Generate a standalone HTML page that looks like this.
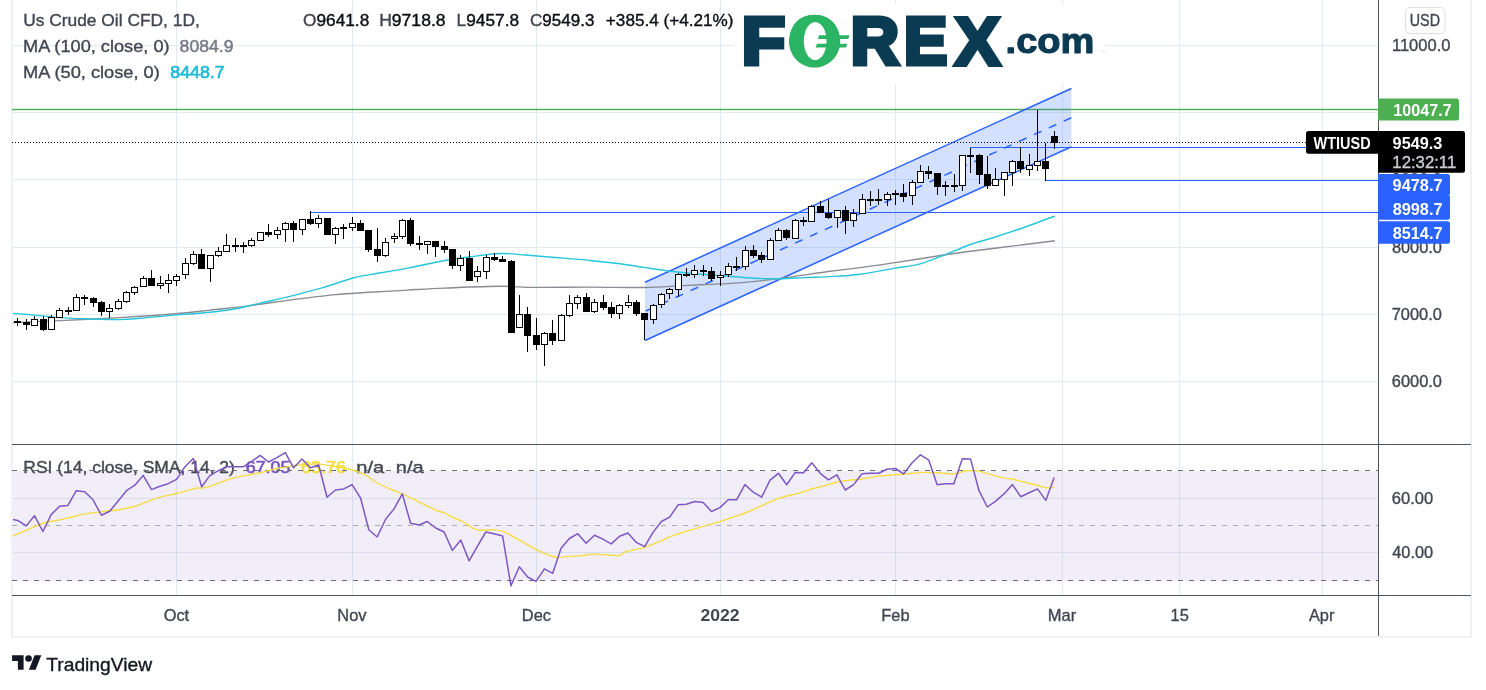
<!DOCTYPE html>
<html lang="en"><head><meta charset="utf-8"><title>Us Crude Oil CFD chart</title>
<style>html,body{margin:0;padding:0;background:#fff;width:1486px;height:690px;overflow:hidden}</style></head>
<body>
<svg width="1486" height="690" viewBox="0 0 1486 690" style="display:block;position:absolute;left:0;top:0" font-family="'Liberation Sans', sans-serif">
<rect width="1486" height="690" fill="#fff"/>
<g fill="#eff1f6" shape-rendering="crispEdges"><rect x="11" y="0" width="2" height="638"/><rect x="1470" y="0" width="2" height="638"/><rect x="11" y="636" width="1461" height="2"/></g>
<rect x="13" y="470.5" width="1365" height="110.0" fill="#f2eef9" shape-rendering="crispEdges"/>
<g fill="#e1ecf2" shape-rendering="crispEdges">
<rect x="176" y="0" width="1" height="595"/>
<rect x="352" y="0" width="1" height="595"/>
<rect x="536" y="0" width="1" height="595"/>
<rect x="720" y="0" width="1" height="595"/>
<rect x="895" y="0" width="1" height="595"/>
<rect x="1062" y="0" width="1" height="595"/>
<rect x="1179" y="0" width="1" height="595"/>
<rect x="1322" y="0" width="1" height="595"/>
<rect x="13" y="45" width="1365" height="1"/>
<rect x="13" y="112" width="1365" height="1"/>
<rect x="13" y="179" width="1365" height="1"/>
<rect x="13" y="247" width="1365" height="1"/>
<rect x="13" y="314" width="1365" height="1"/>
<rect x="13" y="381" width="1365" height="1"/>
</g>
<g fill="#d9dcea" shape-rendering="crispEdges">
<rect x="13" y="498" width="1365" height="1"/>
<rect x="13" y="552" width="1365" height="1"/>
<rect x="176" y="471" width="1" height="109"/>
<rect x="352" y="471" width="1" height="109"/>
<rect x="536" y="471" width="1" height="109"/>
<rect x="720" y="471" width="1" height="109"/>
<rect x="895" y="471" width="1" height="109"/>
<rect x="1062" y="471" width="1" height="109"/>
<rect x="1179" y="471" width="1" height="109"/>
<rect x="1322" y="471" width="1" height="109"/>
</g>
<defs><clipPath id="cp"><rect x="13" y="0" width="1365" height="444"/></clipPath><clipPath id="cr"><rect x="13" y="445" width="1365" height="150"/></clipPath></defs>
<rect x="12" y="108.8" width="1366" height="1.4" fill="#4caf50"/>
<g clip-path="url(#cp)">
<polygon points="645.0,282.2 1071.4,88.5 1071.4,146.8 645.0,340.5" fill="#2962ff" fill-opacity="0.2"/>
<g stroke="#2962ff" stroke-width="1.5" fill="none">
<line x1="645.0" y1="282.2" x2="1071.4" y2="88.5"/>
<line x1="645.0" y1="340.5" x2="1071.4" y2="146.8"/>
<line x1="645.0" y1="311.34999999999997" x2="1071.4" y2="117.65" stroke-dasharray="8.2 8.2" stroke-dashoffset="-0.8"/>
</g>
<g fill="#2962ff" shape-rendering="crispEdges">
<rect x="310" y="211.6" width="1068" height="1.4"/>
<rect x="970" y="146.8" width="408" height="1.4"/>
<rect x="1045" y="179.6" width="333" height="1.4"/>
</g>
<path d="M12.5 322.6C20.4 322.3 42.1 321.4 60.0 320.6C77.9 319.8 100.8 318.7 120.0 317.6C139.2 316.5 160.0 315.1 175.0 313.8C190.0 312.6 197.4 311.5 210.0 310.1C222.6 308.7 236.5 307.4 250.3 305.6C264.1 303.9 278.7 301.4 292.9 299.6C307.1 297.8 322.5 295.8 335.4 294.6C348.2 293.4 358.0 293.1 370.0 292.3C382.0 291.6 395.0 290.8 407.5 290.1C420.0 289.4 429.7 288.7 445.1 288.1C460.6 287.5 485.2 286.4 500.2 286.3C515.2 286.2 520.2 287.3 535.2 287.4C550.2 287.5 571.9 287.1 590.3 287.1C608.6 287.1 629.9 287.8 645.3 287.5C660.7 287.2 670.4 286.2 682.9 285.6C695.4 285.0 710.5 284.4 720.4 283.9C730.2 283.4 732.1 283.5 742.0 282.6C751.9 281.7 765.3 280.3 780.0 278.4C794.7 276.5 816.7 273.1 830.1 271.3C843.5 269.5 849.4 269.1 860.2 267.6C871.1 266.2 881.0 264.7 895.2 262.6C909.4 260.5 932.8 256.7 945.3 254.8C957.8 252.9 957.8 252.9 970.3 251.3C982.8 249.7 1006.3 246.8 1020.4 245.1C1034.5 243.3 1049.2 241.5 1054.9 240.8" fill="none" stroke="#8a8c94" stroke-width="1.4" stroke-linejoin="round"/>
<path d="M12.5 313.3C16.2 313.6 27.1 314.4 35.0 315.1C42.9 315.8 51.7 317.0 60.0 317.6C68.3 318.2 75.0 318.5 85.0 318.8C95.0 319.1 110.8 319.7 120.0 319.6C129.2 319.5 130.8 319.1 140.0 318.3C149.2 317.6 163.3 316.1 175.0 315.1C186.7 314.1 199.9 313.4 210.0 312.3C220.1 311.2 226.9 310.3 235.3 308.8C243.7 307.3 250.7 305.3 260.3 303.1C269.9 300.9 282.5 298.2 292.9 295.6C303.3 293.0 312.9 290.5 322.9 287.6C332.9 284.7 345.0 280.2 352.9 278.0C360.8 275.8 360.9 276.2 370.0 274.6C379.1 273.0 395.0 270.5 407.5 268.1C420.0 265.8 434.7 262.4 445.1 260.5C455.5 258.6 460.9 258.0 470.1 256.8C479.3 255.6 491.0 253.8 500.2 253.5C509.4 253.2 516.0 254.3 525.2 255.0C534.4 255.7 544.4 256.6 555.2 257.5C566.1 258.4 579.4 259.4 590.3 260.5C601.1 261.6 611.1 262.6 620.3 263.8C629.5 265.0 636.9 266.4 645.3 267.6C653.6 268.9 662.0 270.3 670.4 271.3C678.8 272.3 687.1 273.1 695.4 273.8C703.7 274.5 712.6 275.0 720.4 275.6C728.2 276.2 736.2 276.9 742.0 277.3C747.8 277.8 748.7 278.1 755.0 278.3C761.3 278.6 771.6 278.9 780.0 278.8C788.4 278.7 796.8 278.0 805.1 277.6C813.5 277.2 820.9 277.2 830.1 276.6C839.3 276.1 849.4 275.7 860.2 274.3C871.1 272.9 885.2 269.9 895.2 268.1C905.2 266.4 911.9 266.1 920.2 263.8C928.6 261.6 936.9 257.8 945.3 254.6C953.6 251.4 962.0 247.4 970.3 244.5C978.6 241.6 986.1 239.9 995.3 237.0C1004.5 234.1 1015.5 230.5 1025.4 227.0C1035.3 223.5 1050.0 217.8 1054.9 216.0" fill="none" stroke="#26c6da" stroke-width="1.4" stroke-linejoin="round"/>
<g shape-rendering="crispEdges">
<rect x="17" y="318" width="1" height="8" fill="#000"/>
<rect x="14" y="321" width="7" height="2" fill="#000"/>
<rect x="26" y="319" width="1" height="11" fill="#000"/>
<rect x="23" y="322" width="7" height="3" fill="#000"/>
<rect x="34" y="316" width="1" height="10" fill="#000"/>
<rect x="31.5" y="319.5" width="6" height="6" fill="#fff" stroke="#000" stroke-width="1"/>
<rect x="43" y="316" width="1" height="15" fill="#000"/>
<rect x="40" y="319" width="7" height="11" fill="#000"/>
<rect x="51" y="315" width="1" height="15" fill="#000"/>
<rect x="48.5" y="317.5" width="6" height="12" fill="#fff" stroke="#000" stroke-width="1"/>
<rect x="59" y="308" width="1" height="10" fill="#000"/>
<rect x="56.5" y="310.5" width="6" height="7" fill="#fff" stroke="#000" stroke-width="1"/>
<rect x="68" y="307" width="1" height="8" fill="#000"/>
<rect x="65" y="310" width="7" height="2" fill="#000"/>
<rect x="76" y="294" width="1" height="17" fill="#000"/>
<rect x="73.5" y="297.5" width="6" height="13" fill="#fff" stroke="#000" stroke-width="1"/>
<rect x="84" y="295" width="1" height="10" fill="#000"/>
<rect x="81" y="297" width="7" height="2" fill="#000"/>
<rect x="93" y="297" width="1" height="10" fill="#000"/>
<rect x="90" y="298" width="7" height="5" fill="#000"/>
<rect x="101" y="301" width="1" height="15" fill="#000"/>
<rect x="98" y="302" width="7" height="10" fill="#000"/>
<rect x="109" y="304" width="1" height="14" fill="#000"/>
<rect x="106.5" y="308.5" width="6" height="3" fill="#fff" stroke="#000" stroke-width="1"/>
<rect x="118" y="299" width="1" height="11" fill="#000"/>
<rect x="115.5" y="301.5" width="6" height="7" fill="#fff" stroke="#000" stroke-width="1"/>
<rect x="126" y="291" width="1" height="12" fill="#000"/>
<rect x="123.5" y="292.5" width="6" height="9" fill="#fff" stroke="#000" stroke-width="1"/>
<rect x="134" y="286" width="1" height="9" fill="#000"/>
<rect x="131.5" y="287.5" width="6" height="5" fill="#fff" stroke="#000" stroke-width="1"/>
<rect x="143" y="276" width="1" height="11" fill="#000"/>
<rect x="140.5" y="278.5" width="6" height="8" fill="#fff" stroke="#000" stroke-width="1"/>
<rect x="151" y="270" width="1" height="16" fill="#000"/>
<rect x="148" y="278" width="7" height="8" fill="#000"/>
<rect x="160" y="276" width="1" height="13" fill="#000"/>
<rect x="157.5" y="283.5" width="6" height="2" fill="#fff" stroke="#000" stroke-width="1"/>
<rect x="168" y="274" width="1" height="19" fill="#000"/>
<rect x="165.5" y="280.5" width="6" height="3" fill="#fff" stroke="#000" stroke-width="1"/>
<rect x="176" y="274" width="1" height="12" fill="#000"/>
<rect x="173.5" y="276.5" width="6" height="4" fill="#fff" stroke="#000" stroke-width="1"/>
<rect x="185" y="258" width="1" height="21" fill="#000"/>
<rect x="182.5" y="263.5" width="6" height="11" fill="#fff" stroke="#000" stroke-width="1"/>
<rect x="193" y="251" width="1" height="14" fill="#000"/>
<rect x="190.5" y="254.5" width="6" height="9" fill="#fff" stroke="#000" stroke-width="1"/>
<rect x="201" y="249" width="1" height="20" fill="#000"/>
<rect x="198" y="254" width="7" height="15" fill="#000"/>
<rect x="210" y="255" width="1" height="27" fill="#000"/>
<rect x="207.5" y="255.5" width="6" height="13" fill="#fff" stroke="#000" stroke-width="1"/>
<rect x="218" y="247" width="1" height="10" fill="#000"/>
<rect x="215.5" y="251.5" width="6" height="4" fill="#fff" stroke="#000" stroke-width="1"/>
<rect x="226" y="234" width="1" height="17" fill="#000"/>
<rect x="223.5" y="245.5" width="6" height="6" fill="#fff" stroke="#000" stroke-width="1"/>
<rect x="235" y="238" width="1" height="14" fill="#000"/>
<rect x="232" y="245" width="7" height="2" fill="#000"/>
<rect x="243" y="242" width="1" height="11" fill="#000"/>
<rect x="240" y="245" width="7" height="2" fill="#000"/>
<rect x="251" y="238" width="1" height="9" fill="#000"/>
<rect x="248.5" y="240.5" width="6" height="5" fill="#fff" stroke="#000" stroke-width="1"/>
<rect x="260" y="232" width="1" height="8" fill="#000"/>
<rect x="257.5" y="232.5" width="6" height="8" fill="#fff" stroke="#000" stroke-width="1"/>
<rect x="268" y="224" width="1" height="13" fill="#000"/>
<rect x="265" y="232" width="7" height="3" fill="#000"/>
<rect x="277" y="227" width="1" height="12" fill="#000"/>
<rect x="274.5" y="230.5" width="6" height="4" fill="#fff" stroke="#000" stroke-width="1"/>
<rect x="285" y="222" width="1" height="20" fill="#000"/>
<rect x="282.5" y="223.5" width="6" height="6" fill="#fff" stroke="#000" stroke-width="1"/>
<rect x="293" y="221" width="1" height="21" fill="#000"/>
<rect x="290" y="223" width="7" height="7" fill="#000"/>
<rect x="302" y="219" width="1" height="16" fill="#000"/>
<rect x="299.5" y="219.5" width="6" height="10" fill="#fff" stroke="#000" stroke-width="1"/>
<rect x="310" y="211" width="1" height="14" fill="#000"/>
<rect x="307" y="219" width="7" height="5" fill="#000"/>
<rect x="318" y="215" width="1" height="13" fill="#000"/>
<rect x="315.5" y="218.5" width="6" height="5" fill="#fff" stroke="#000" stroke-width="1"/>
<rect x="327" y="218" width="1" height="17" fill="#000"/>
<rect x="324" y="218" width="7" height="17" fill="#000"/>
<rect x="335" y="227" width="1" height="17" fill="#000"/>
<rect x="332.5" y="228.5" width="6" height="6" fill="#fff" stroke="#000" stroke-width="1"/>
<rect x="343" y="224" width="1" height="15" fill="#000"/>
<rect x="340" y="227" width="7" height="2" fill="#000"/>
<rect x="352" y="217" width="1" height="14" fill="#000"/>
<rect x="349.5" y="223.5" width="6" height="4" fill="#fff" stroke="#000" stroke-width="1"/>
<rect x="360" y="220" width="1" height="11" fill="#000"/>
<rect x="357" y="223" width="7" height="8" fill="#000"/>
<rect x="368" y="230" width="1" height="22" fill="#000"/>
<rect x="365" y="230" width="7" height="20" fill="#000"/>
<rect x="377" y="228" width="1" height="34" fill="#000"/>
<rect x="374" y="249" width="7" height="7" fill="#000"/>
<rect x="385" y="238" width="1" height="19" fill="#000"/>
<rect x="382.5" y="242.5" width="6" height="13" fill="#fff" stroke="#000" stroke-width="1"/>
<rect x="394" y="233" width="1" height="10" fill="#000"/>
<rect x="391.5" y="236.5" width="6" height="2" fill="#fff" stroke="#000" stroke-width="1"/>
<rect x="402" y="219" width="1" height="20" fill="#000"/>
<rect x="399.5" y="220.5" width="6" height="16" fill="#fff" stroke="#000" stroke-width="1"/>
<rect x="410" y="218" width="1" height="28" fill="#000"/>
<rect x="407" y="220" width="7" height="24" fill="#000"/>
<rect x="419" y="236" width="1" height="14" fill="#000"/>
<rect x="416" y="243" width="7" height="2" fill="#000"/>
<rect x="427" y="241" width="1" height="13" fill="#000"/>
<rect x="424.5" y="241.5" width="6" height="3" fill="#fff" stroke="#000" stroke-width="1"/>
<rect x="435" y="241" width="1" height="16" fill="#000"/>
<rect x="432" y="241" width="7" height="6" fill="#000"/>
<rect x="444" y="241" width="1" height="12" fill="#000"/>
<rect x="441" y="246" width="7" height="4" fill="#000"/>
<rect x="452" y="249" width="1" height="20" fill="#000"/>
<rect x="449" y="249" width="7" height="17" fill="#000"/>
<rect x="460" y="255" width="1" height="16" fill="#000"/>
<rect x="457.5" y="258.5" width="6" height="7" fill="#fff" stroke="#000" stroke-width="1"/>
<rect x="469" y="251" width="1" height="30" fill="#000"/>
<rect x="466" y="258" width="7" height="23" fill="#000"/>
<rect x="477" y="266" width="1" height="16" fill="#000"/>
<rect x="474.5" y="271.5" width="6" height="5" fill="#fff" stroke="#000" stroke-width="1"/>
<rect x="486" y="255" width="1" height="24" fill="#000"/>
<rect x="483.5" y="257.5" width="6" height="14" fill="#fff" stroke="#000" stroke-width="1"/>
<rect x="494" y="253" width="1" height="8" fill="#000"/>
<rect x="491" y="257" width="7" height="3" fill="#000"/>
<rect x="502" y="256" width="1" height="6" fill="#000"/>
<rect x="499" y="259" width="7" height="3" fill="#000"/>
<rect x="511" y="260" width="1" height="73" fill="#000"/>
<rect x="508" y="261" width="7" height="72" fill="#000"/>
<rect x="519" y="295" width="1" height="33" fill="#000"/>
<rect x="516.5" y="314.5" width="6" height="13" fill="#fff" stroke="#000" stroke-width="1"/>
<rect x="527" y="307" width="1" height="45" fill="#000"/>
<rect x="524" y="314" width="7" height="22" fill="#000"/>
<rect x="536" y="318" width="1" height="32" fill="#000"/>
<rect x="533" y="335" width="7" height="10" fill="#000"/>
<rect x="544" y="332" width="1" height="34" fill="#000"/>
<rect x="541.5" y="333.5" width="6" height="11" fill="#fff" stroke="#000" stroke-width="1"/>
<rect x="552" y="320" width="1" height="25" fill="#000"/>
<rect x="549" y="333" width="7" height="8" fill="#000"/>
<rect x="561" y="314" width="1" height="27" fill="#000"/>
<rect x="558.5" y="315.5" width="6" height="25" fill="#fff" stroke="#000" stroke-width="1"/>
<rect x="569" y="295" width="1" height="22" fill="#000"/>
<rect x="566.5" y="303.5" width="6" height="12" fill="#fff" stroke="#000" stroke-width="1"/>
<rect x="577" y="295" width="1" height="14" fill="#000"/>
<rect x="574.5" y="297.5" width="6" height="6" fill="#fff" stroke="#000" stroke-width="1"/>
<rect x="586" y="293" width="1" height="19" fill="#000"/>
<rect x="583" y="297" width="7" height="15" fill="#000"/>
<rect x="594" y="299" width="1" height="14" fill="#000"/>
<rect x="591.5" y="302.5" width="6" height="9" fill="#fff" stroke="#000" stroke-width="1"/>
<rect x="603" y="295" width="1" height="15" fill="#000"/>
<rect x="600" y="302" width="7" height="6" fill="#000"/>
<rect x="611" y="302" width="1" height="16" fill="#000"/>
<rect x="608" y="307" width="7" height="7" fill="#000"/>
<rect x="619" y="304" width="1" height="15" fill="#000"/>
<rect x="616.5" y="305.5" width="6" height="8" fill="#fff" stroke="#000" stroke-width="1"/>
<rect x="628" y="295" width="1" height="13" fill="#000"/>
<rect x="625.5" y="302.5" width="6" height="3" fill="#fff" stroke="#000" stroke-width="1"/>
<rect x="636" y="300" width="1" height="16" fill="#000"/>
<rect x="633" y="302" width="7" height="12" fill="#000"/>
<rect x="644" y="313" width="1" height="27" fill="#000"/>
<rect x="641" y="313" width="7" height="7" fill="#000"/>
<rect x="653" y="304" width="1" height="20" fill="#000"/>
<rect x="650.5" y="305.5" width="6" height="14" fill="#fff" stroke="#000" stroke-width="1"/>
<rect x="661" y="293" width="1" height="15" fill="#000"/>
<rect x="658.5" y="294.5" width="6" height="10" fill="#fff" stroke="#000" stroke-width="1"/>
<rect x="669" y="288" width="1" height="11" fill="#000"/>
<rect x="666.5" y="289.5" width="6" height="4" fill="#fff" stroke="#000" stroke-width="1"/>
<rect x="678" y="273" width="1" height="24" fill="#000"/>
<rect x="675.5" y="274.5" width="6" height="15" fill="#fff" stroke="#000" stroke-width="1"/>
<rect x="686" y="268" width="1" height="9" fill="#000"/>
<rect x="683" y="274" width="7" height="2" fill="#000"/>
<rect x="694" y="265" width="1" height="13" fill="#000"/>
<rect x="691.5" y="270.5" width="6" height="4" fill="#fff" stroke="#000" stroke-width="1"/>
<rect x="703" y="265" width="1" height="11" fill="#000"/>
<rect x="700" y="270" width="7" height="2" fill="#000"/>
<rect x="711" y="267" width="1" height="14" fill="#000"/>
<rect x="708" y="271" width="7" height="8" fill="#000"/>
<rect x="720" y="271" width="1" height="15" fill="#000"/>
<rect x="717.5" y="275.5" width="6" height="2" fill="#fff" stroke="#000" stroke-width="1"/>
<rect x="728" y="263" width="1" height="14" fill="#000"/>
<rect x="725.5" y="266.5" width="6" height="8" fill="#fff" stroke="#000" stroke-width="1"/>
<rect x="736" y="257" width="1" height="14" fill="#000"/>
<rect x="733" y="266" width="7" height="2" fill="#000"/>
<rect x="745" y="246" width="1" height="24" fill="#000"/>
<rect x="742.5" y="250.5" width="6" height="16" fill="#fff" stroke="#000" stroke-width="1"/>
<rect x="753" y="245" width="1" height="13" fill="#000"/>
<rect x="750" y="250" width="7" height="6" fill="#000"/>
<rect x="761" y="252" width="1" height="11" fill="#000"/>
<rect x="758" y="255" width="7" height="5" fill="#000"/>
<rect x="770" y="238" width="1" height="21" fill="#000"/>
<rect x="767.5" y="240.5" width="6" height="19" fill="#fff" stroke="#000" stroke-width="1"/>
<rect x="778" y="228" width="1" height="13" fill="#000"/>
<rect x="775.5" y="230.5" width="6" height="10" fill="#fff" stroke="#000" stroke-width="1"/>
<rect x="786" y="229" width="1" height="11" fill="#000"/>
<rect x="783" y="230" width="7" height="8" fill="#000"/>
<rect x="795" y="219" width="1" height="19" fill="#000"/>
<rect x="792.5" y="220.5" width="6" height="18" fill="#fff" stroke="#000" stroke-width="1"/>
<rect x="803" y="217" width="1" height="9" fill="#000"/>
<rect x="800" y="220" width="7" height="2" fill="#000"/>
<rect x="811" y="205" width="1" height="17" fill="#000"/>
<rect x="808.5" y="206.5" width="6" height="15" fill="#fff" stroke="#000" stroke-width="1"/>
<rect x="820" y="201" width="1" height="12" fill="#000"/>
<rect x="817" y="206" width="7" height="7" fill="#000"/>
<rect x="828" y="199" width="1" height="20" fill="#000"/>
<rect x="825" y="213" width="7" height="5" fill="#000"/>
<rect x="837" y="210" width="1" height="18" fill="#000"/>
<rect x="834.5" y="210.5" width="6" height="7" fill="#fff" stroke="#000" stroke-width="1"/>
<rect x="845" y="206" width="1" height="28" fill="#000"/>
<rect x="842" y="210" width="7" height="11" fill="#000"/>
<rect x="853" y="209" width="1" height="18" fill="#000"/>
<rect x="850.5" y="213.5" width="6" height="7" fill="#fff" stroke="#000" stroke-width="1"/>
<rect x="862" y="194" width="1" height="19" fill="#000"/>
<rect x="859.5" y="199.5" width="6" height="14" fill="#fff" stroke="#000" stroke-width="1"/>
<rect x="870" y="191" width="1" height="15" fill="#000"/>
<rect x="867" y="199" width="7" height="2" fill="#000"/>
<rect x="878" y="189" width="1" height="16" fill="#000"/>
<rect x="875" y="199" width="7" height="2" fill="#000"/>
<rect x="887" y="192" width="1" height="14" fill="#000"/>
<rect x="884.5" y="194.5" width="6" height="5" fill="#fff" stroke="#000" stroke-width="1"/>
<rect x="895" y="190" width="1" height="15" fill="#000"/>
<rect x="892" y="193" width="7" height="2" fill="#000"/>
<rect x="903" y="184" width="1" height="18" fill="#000"/>
<rect x="900" y="193" width="7" height="4" fill="#000"/>
<rect x="912" y="180" width="1" height="25" fill="#000"/>
<rect x="909.5" y="182.5" width="6" height="13" fill="#fff" stroke="#000" stroke-width="1"/>
<rect x="920" y="165" width="1" height="18" fill="#000"/>
<rect x="917.5" y="171.5" width="6" height="11" fill="#fff" stroke="#000" stroke-width="1"/>
<rect x="928" y="166" width="1" height="13" fill="#000"/>
<rect x="925" y="171" width="7" height="3" fill="#000"/>
<rect x="937" y="173" width="1" height="22" fill="#000"/>
<rect x="934" y="173" width="7" height="14" fill="#000"/>
<rect x="945" y="181" width="1" height="15" fill="#000"/>
<rect x="942" y="185" width="7" height="2" fill="#000"/>
<rect x="954" y="174" width="1" height="18" fill="#000"/>
<rect x="951" y="185" width="7" height="2" fill="#000"/>
<rect x="962" y="155" width="1" height="36" fill="#000"/>
<rect x="959.5" y="155.5" width="6" height="30" fill="#fff" stroke="#000" stroke-width="1"/>
<rect x="970" y="148" width="1" height="25" fill="#000"/>
<rect x="967" y="155" width="7" height="2" fill="#000"/>
<rect x="979" y="154" width="1" height="30" fill="#000"/>
<rect x="976" y="155" width="7" height="20" fill="#000"/>
<rect x="987" y="156" width="1" height="33" fill="#000"/>
<rect x="984" y="174" width="7" height="12" fill="#000"/>
<rect x="995" y="168" width="1" height="18" fill="#000"/>
<rect x="992.5" y="179.5" width="6" height="6" fill="#fff" stroke="#000" stroke-width="1"/>
<rect x="1004" y="172" width="1" height="24" fill="#000"/>
<rect x="1001.5" y="172.5" width="6" height="7" fill="#fff" stroke="#000" stroke-width="1"/>
<rect x="1012" y="160" width="1" height="26" fill="#000"/>
<rect x="1009.5" y="161.5" width="6" height="11" fill="#fff" stroke="#000" stroke-width="1"/>
<rect x="1020" y="147" width="1" height="26" fill="#000"/>
<rect x="1017" y="161" width="7" height="8" fill="#000"/>
<rect x="1029" y="154" width="1" height="22" fill="#000"/>
<rect x="1026.5" y="165.5" width="6" height="4" fill="#fff" stroke="#000" stroke-width="1"/>
<rect x="1037" y="110" width="1" height="61" fill="#000"/>
<rect x="1034.5" y="161.5" width="6" height="4" fill="#fff" stroke="#000" stroke-width="1"/>
<rect x="1045" y="143" width="1" height="38" fill="#000"/>
<rect x="1042" y="161" width="7" height="8" fill="#000"/>
<rect x="1054" y="131" width="1" height="18" fill="#000"/>
<rect x="1051" y="136" width="7" height="7" fill="#000"/>
<rect x="12" y="316" width="1" height="6" fill="#000"/>
</g>
</g>
<line x1="12" x2="1378" y1="142.5" y2="142.5" stroke="#000" stroke-width="1" stroke-dasharray="1 2" shape-rendering="crispEdges"/>
<text x="23.37" y="473.3" font-size="16.7" fill="#434651" stroke="#434651" stroke-width="0.35" textLength="211.51" lengthAdjust="spacingAndGlyphs">RSI (14, close, SMA, 14, 2)</text>
<text x="245.8" y="473.3" font-size="16.7" fill="#7e57c2" stroke="#7e57c2" stroke-width="0.7" textLength="44.55" lengthAdjust="spacingAndGlyphs">67.05</text>
<text x="301.09" y="473.3" font-size="16.7" fill="#f5dd42" stroke="#f5dd42" stroke-width="0.7" textLength="45.0" lengthAdjust="spacingAndGlyphs">63.76</text>
<text x="356.37" y="473.3" font-size="16.7" fill="#434651" stroke="#434651" stroke-width="0.35" textLength="27.93" lengthAdjust="spacingAndGlyphs">n/a</text>
<text x="395.87" y="473.3" font-size="16.7" fill="#434651" stroke="#434651" stroke-width="0.35" textLength="27.93" lengthAdjust="spacingAndGlyphs">n/a</text>
<g shape-rendering="crispEdges" stroke-width="1" fill="none">
<line x1="12" x2="1378" y1="470.5" y2="470.5" stroke="#6a6d78" stroke-dasharray="5 6"/>
<line x1="12" x2="1378" y1="580.5" y2="580.5" stroke="#6a6d78" stroke-dasharray="5 6"/>
<line x1="12" x2="1378" y1="525.5" y2="525.5" stroke="#a9abb3" stroke-dasharray="5 6"/>
</g>
<g clip-path="url(#cr)">
<path d="M12.2 536.3C14.7 535.2 22.3 532.0 27.4 529.8C32.5 527.6 36.4 525.1 42.6 523.3C48.8 521.4 57.5 520.4 64.3 518.9C71.2 517.4 77.0 515.4 83.9 514.1C90.8 512.9 99.9 512.0 105.7 511.3C111.4 510.6 114.0 510.6 118.7 509.8C123.4 509.0 129.6 507.7 133.9 506.5C138.3 505.3 140.4 504.2 144.8 502.6C149.1 501.1 154.6 498.7 160.0 497.2C165.4 495.6 171.6 494.7 177.4 493.3C183.2 491.8 190.8 489.3 194.8 488.5C198.8 487.6 198.8 488.4 201.3 488.0C203.8 487.7 205.7 487.7 210.0 486.3C214.3 484.9 221.6 481.6 227.4 479.8C233.2 478.0 239.3 476.6 244.8 475.4C250.2 474.3 254.6 474.0 260.0 472.8C265.4 471.7 270.7 469.8 277.4 468.5C284.1 467.2 295.7 465.7 300.0 465.0C304.3 464.3 300.0 464.7 303.0 464.6C306.1 464.4 313.2 463.8 318.3 464.1C323.3 464.4 327.7 465.3 333.5 466.3C339.3 467.3 347.6 468.5 353.0 470.0C358.5 471.5 362.1 473.3 366.1 475.4C370.1 477.6 372.2 480.5 377.0 483.0C381.7 485.6 389.3 488.5 394.3 490.7C399.4 492.8 403.0 494.1 407.4 496.1C411.7 498.1 415.7 500.3 420.4 502.6C425.1 505.0 431.7 508.5 435.7 510.2C439.6 511.9 441.4 511.6 444.3 512.8C447.2 514.0 450.1 516.0 453.0 517.4C455.9 518.8 457.8 519.0 461.7 521.1C465.7 523.2 471.9 528.3 477.0 529.8C482.0 531.2 487.8 529.5 492.2 529.8C496.5 530.0 498.3 529.5 503.0 531.3C507.8 533.1 515.0 537.6 520.4 540.7C525.9 543.7 530.2 546.7 535.7 549.3C541.1 552.0 549.1 555.2 553.0 556.5C557.0 557.9 555.1 557.5 559.6 557.4C564.1 557.3 574.3 556.4 580.0 555.9C585.7 555.3 588.7 554.2 593.9 554.1C599.1 554.0 607.0 555.0 611.3 555.2C615.7 555.4 617.5 555.8 620.0 555.2C622.5 554.6 622.5 552.8 626.5 551.5C630.5 550.3 638.1 549.4 643.9 547.6C649.7 545.8 657.0 542.5 661.3 540.7C665.7 538.8 665.7 538.4 670.0 536.7C674.3 535.1 681.6 532.7 687.4 530.9C693.2 529.1 699.3 527.4 704.8 525.9C710.2 524.3 716.0 523.0 720.0 521.7C724.0 520.5 724.7 519.9 728.7 518.5C732.7 517.1 738.5 515.6 743.9 513.5C749.3 511.4 755.5 508.4 761.3 505.9C767.1 503.3 772.9 500.3 778.7 498.3C784.5 496.3 791.7 495.1 796.1 493.9C800.4 492.8 801.9 492.2 804.8 491.3C807.7 490.4 810.9 489.2 813.5 488.5C816.0 487.8 816.0 488.0 820.0 487.0C824.0 485.9 832.7 483.0 837.4 482.0C842.1 480.9 844.5 480.9 848.3 480.4C852.0 480.0 857.5 479.6 860.0 479.3C862.5 479.1 860.0 479.2 863.0 478.7C866.1 478.2 872.8 476.7 878.3 476.1C883.7 475.4 889.9 475.3 895.7 474.8C901.4 474.3 908.7 473.7 913.0 473.3C917.4 472.9 917.8 472.5 921.7 472.4C925.7 472.3 931.5 472.6 937.0 472.8C942.4 473.1 950.0 474.1 954.3 473.9C958.7 473.7 960.1 472.1 963.0 471.5C965.9 470.9 969.2 470.5 971.7 470.4C974.3 470.4 975.7 470.6 978.3 471.1C980.8 471.6 983.0 472.2 987.0 473.3C990.9 474.3 997.8 476.6 1002.2 477.6C1006.5 478.6 1009.4 478.6 1013.0 479.3C1016.7 480.1 1019.9 481.0 1023.9 482.0C1027.9 482.9 1033.3 484.2 1037.0 485.2C1040.6 486.2 1042.8 487.5 1045.7 487.8C1048.6 488.2 1052.9 487.5 1054.3 487.4" fill="none" stroke="#f5dd42" stroke-width="1.4" stroke-linejoin="round"/>
<polyline points="9.4,518.9 17.8,520.4 26.2,525.9 34.5,515.7 42.9,531.5 51.2,514.6 59.6,506.3 67.9,505.4 76.3,490.7 84.7,491.7 93.0,499.8 101.4,515.2 109.7,511.3 118.1,501.1 126.5,490.7 134.8,485.2 143.2,475.4 151.5,489.6 159.9,486.3 168.2,483.7 176.6,479.3 185.0,466.7 193.3,458.5 201.7,486.7 210.0,475.4 218.4,470.7 226.7,466.7 235.1,466.7 243.5,466.7 251.8,461.3 260.2,455.4 268.5,462.0 276.9,457.6 285.3,452.6 293.6,467.8 302.0,459.1 310.3,467.8 318.7,465.0 327.0,497.2 335.4,490.0 343.8,488.9 352.1,484.6 360.5,497.8 368.8,529.8 377.2,537.0 385.6,519.3 393.9,509.1 402.3,493.9 410.6,523.3 419.0,525.0 427.3,521.5 435.7,528.0 444.1,532.0 452.4,550.4 460.8,540.0 469.1,560.9 477.5,546.1 485.8,532.0 494.2,533.7 502.6,535.9 510.9,585.9 519.3,566.7 527.6,577.0 536.0,581.3 544.4,568.9 552.7,573.3 561.1,548.3 569.4,538.5 577.8,533.7 586.1,543.3 594.5,535.2 602.9,539.1 611.2,543.9 619.6,536.3 627.9,533.0 636.3,542.4 644.6,546.7 653.0,532.4 661.4,521.5 669.7,517.2 678.1,504.8 686.4,504.3 694.8,501.5 703.2,502.6 711.5,511.5 719.9,507.6 728.2,499.8 736.6,499.8 744.9,484.6 753.3,492.2 761.7,497.2 770.0,480.2 778.4,473.3 786.7,484.8 795.1,472.6 803.5,472.8 811.8,462.8 820.2,473.3 828.5,479.8 836.9,474.8 845.2,490.0 853.6,484.6 862.0,473.7 870.3,473.3 878.7,473.3 887.0,469.3 895.4,468.5 903.7,473.9 912.1,462.8 920.5,454.8 928.8,460.2 937.2,484.8 945.5,483.7 953.9,483.7 962.3,458.7 970.6,459.1 979.0,490.7 987.3,507.0 995.7,501.1 1004.0,493.9 1012.4,484.6 1020.8,496.7 1029.1,492.8 1037.5,488.9 1045.8,500.4 1054.2,477.6" fill="none" stroke="#7e57c2" stroke-width="1.5" stroke-linejoin="round"/>
</g>
<rect x="733" y="4" width="373" height="80" fill="#fff"/>
<rect x="1101" y="51" width="5" height="1" fill="#e1ecf2" shape-rendering="crispEdges"/>
<g fill="#50535f" shape-rendering="crispEdges">
<rect x="1378" y="0" width="1" height="636"/>
<rect x="12" y="444" width="1459" height="1"/>
<rect x="12" y="595" width="1459" height="1"/>
</g>
<text x="1391.97" y="50.9" font-size="16.4" fill="#434651" stroke="#434651" stroke-width="0.35" textLength="58.46" lengthAdjust="spacingAndGlyphs">11000.0</text>
<text x="1391.97" y="117.9" font-size="16.4" fill="#434651" stroke="#434651" stroke-width="0.35" textLength="58.46" lengthAdjust="spacingAndGlyphs">10000.0</text>
<text x="1391.83" y="184.9" font-size="16.4" fill="#434651" stroke="#434651" stroke-width="0.35" textLength="50.11" lengthAdjust="spacingAndGlyphs">9000.0</text>
<text x="1391.89" y="252.9" font-size="16.4" fill="#434651" stroke="#434651" stroke-width="0.35" textLength="50.05" lengthAdjust="spacingAndGlyphs">8000.0</text>
<text x="1391.76" y="319.9" font-size="16.4" fill="#434651" stroke="#434651" stroke-width="0.35" textLength="50.18" lengthAdjust="spacingAndGlyphs">7000.0</text>
<text x="1391.77" y="386.9" font-size="16.4" fill="#434651" stroke="#434651" stroke-width="0.35" textLength="50.17" lengthAdjust="spacingAndGlyphs">6000.0</text>
<text x="1391.76" y="503.9" font-size="16.4" fill="#434651" stroke="#434651" stroke-width="0.35" textLength="41.39" lengthAdjust="spacingAndGlyphs">60.00</text>
<text x="1392.22" y="557.9" font-size="16.4" fill="#434651" stroke="#434651" stroke-width="0.35" textLength="40.91" lengthAdjust="spacingAndGlyphs">40.00</text>
<rect x="1405.5" y="7.5" width="39.5" height="26" rx="4.5" fill="#fff" stroke="#dcdfe8" stroke-width="1"/>
<text x="1409.8" y="25.8" font-size="16.0" fill="#434651" stroke="#434651" stroke-width="0.35" textLength="30.19" lengthAdjust="spacingAndGlyphs">USD</text>
<path d="M1378 98.5h78.5a2.5 2.5 0 0 1 2.5 2.5v17a2.5 2.5 0 0 1-2.5 2.5h-78.5z" fill="#4caf50"/>
<text x="1393.38" y="115.6" font-size="15.7" fill="#fff" font-weight="bold" textLength="58.33" lengthAdjust="spacingAndGlyphs">10047.7</text>
<path d="M1378 174h69.5a2.5 2.5 0 0 1 2.5 2.5v17.6l-1 1.200l1 1.200v20.800a2.5 2.5 0 0 1-2.5 2.5h-69.5z" fill="#2962ff"/>
<path d="M1378 221.2h69.5a2.5 2.5 0 0 1 2.5 2.5v17.6a2.5 2.5 0 0 1-2.5 2.5h-69.5z" fill="#2962ff"/>
<text x="1392.63" y="191.2" font-size="15.7" fill="#fff" font-weight="bold" textLength="49.88" lengthAdjust="spacingAndGlyphs">9478.7</text>
<text x="1392.68" y="215.0" font-size="15.7" fill="#fff" font-weight="bold" textLength="49.83" lengthAdjust="spacingAndGlyphs">8998.7</text>
<text x="1392.68" y="238.9" font-size="15.7" fill="#fff" font-weight="bold" textLength="49.83" lengthAdjust="spacingAndGlyphs">8514.7</text>
<path d="M1308.5 131h154a2.5 2.5 0 0 1 2.5 2.5v36.7a2.5 2.5 0 0 1-2.5 2.5h-84.5v-19h-69.5a2.500 2.500 0 0 1-2.5-2.5v-17.7a2.500 2.500 0 0 1 2.500-2.500z" fill="#000"/>
<text x="1313.49" y="148.5" font-size="15.7" fill="#fff" font-weight="bold" textLength="57.12" lengthAdjust="spacingAndGlyphs">WTIUSD</text>
<text x="1392.64" y="148.5" font-size="15.7" fill="#fff" font-weight="bold" textLength="49.75" lengthAdjust="spacingAndGlyphs">9549.3</text>
<text x="1392.35" y="167.8" font-size="16.2" fill="#c9ccd3" stroke="#c9ccd3" stroke-width="0.35" textLength="63.85" lengthAdjust="spacingAndGlyphs">12:32:11</text>
<text x="176.4" y="620.9" font-size="16.4" fill="#434651" stroke="#434651" stroke-width="0.35" text-anchor="middle">Oct</text>
<text x="351.9" y="620.9" font-size="16.4" fill="#434651" stroke="#434651" stroke-width="0.35" text-anchor="middle">Nov</text>
<text x="536.4" y="620.9" font-size="16.4" fill="#434651" stroke="#434651" stroke-width="0.35" text-anchor="middle">Dec</text>
<text x="895.4" y="620.9" font-size="16.4" fill="#434651" stroke="#434651" stroke-width="0.35" text-anchor="middle">Feb</text>
<text x="1179.7" y="620.9" font-size="16.4" fill="#434651" stroke="#434651" stroke-width="0.35" text-anchor="middle">15</text>
<text x="1321.7" y="620.9" font-size="16.4" fill="#434651" stroke="#434651" stroke-width="0.35" text-anchor="middle">Apr</text>
<text x="700.49" y="620.9" font-size="16.4" fill="#434651" font-weight="bold" textLength="39.11" lengthAdjust="spacingAndGlyphs">2022</text>
<text x="1047.75" y="620.9" font-size="16.4" fill="#434651" stroke="#434651" stroke-width="0.35" textLength="28.43" lengthAdjust="spacingAndGlyphs">Mar</text>
<text x="23.16" y="26.4" font-size="16.7" fill="#434651" stroke="#434651" stroke-width="0.35" textLength="176.6" lengthAdjust="spacingAndGlyphs">Us Crude Oil CFD, 1D,</text>
<text x="303.08" y="26.4" font-size="16.7" fill="#0c0e15" stroke="#0c0e15" stroke-width="0.4" textLength="66.17" lengthAdjust="spacingAndGlyphs"><tspan fill="#434651" stroke="#434651">O</tspan>9641.8</text>
<text x="379.16" y="26.4" font-size="16.7" fill="#0c0e15" stroke="#0c0e15" stroke-width="0.4" textLength="66.40" lengthAdjust="spacingAndGlyphs"><tspan fill="#434651" stroke="#434651">H</tspan>9718.8</text>
<text x="456.58" y="26.4" font-size="16.7" fill="#0c0e15" stroke="#0c0e15" stroke-width="0.4" textLength="62.47" lengthAdjust="spacingAndGlyphs"><tspan fill="#434651" stroke="#434651">L</tspan>9457.8</text>
<text x="530.04" y="26.4" font-size="16.7" fill="#0c0e15" stroke="#0c0e15" stroke-width="0.4" textLength="64.31" lengthAdjust="spacingAndGlyphs"><tspan fill="#434651" stroke="#434651">C</tspan>9549.3</text>
<text x="605.86" y="26.4" font-size="16.7" fill="#0c0e15" stroke="#0c0e15" stroke-width="0.35" textLength="127.6" lengthAdjust="spacingAndGlyphs">+385.4 (+4.21%)</text>
<text x="23.02" y="52.4" font-size="16.7" fill="#434651" stroke="#434651" stroke-width="0.35" textLength="146.6" lengthAdjust="spacingAndGlyphs">MA (100, close, 0)</text>
<text x="179.64" y="52.4" font-size="16.7" fill="#787b86" stroke="#787b86" stroke-width="0.5" textLength="53.8" lengthAdjust="spacingAndGlyphs">8084.9</text>
<text x="23.02" y="78.4" font-size="16.7" fill="#434651" stroke="#434651" stroke-width="0.35" textLength="136.81" lengthAdjust="spacingAndGlyphs">MA (50, close, 0)</text>
<text x="170.33" y="78.4" font-size="16.7" fill="#22bcd4" stroke="#22bcd4" stroke-width="0.7" textLength="54.37" lengthAdjust="spacingAndGlyphs">8448.7</text>
<g>
<text transform="translate(741.69 64.40) scale(1.0145 0.9613)" font-size="70.0" font-weight="bold" fill="#0b3a53" stroke="#0b3a53" stroke-width="5.0" stroke-linejoin="miter">F</text>
<text transform="translate(786.36 66.18) scale(1.0378 1.0389)" font-size="70.0" font-weight="normal" fill="#2bb463" stroke="#2bb463" stroke-width="0.01" stroke-linejoin="miter">O</text>
<text transform="translate(850.82 64.40) scale(0.9548 0.9613)" font-size="70.0" font-weight="bold" fill="#0b3a53" stroke="#0b3a53" stroke-width="5.0" stroke-linejoin="miter">R</text>
<text transform="translate(903.88 64.40) scale(0.9261 0.9613)" font-size="70.0" font-weight="bold" fill="#0b3a53" stroke="#0b3a53" stroke-width="5.0" stroke-linejoin="miter">E</text>
<text transform="translate(954.46 64.84) scale(0.9847 0.9797)" font-size="70.0" font-weight="bold" fill="#0b3a53" stroke="#0b3a53" stroke-width="4" stroke-linejoin="miter">X</text>
<text transform="translate(1005.6 52.6) scale(1 0.9)" font-size="38.5" font-weight="bold" fill="#0b3a53" stroke="#0b3a53" stroke-width="1.2" stroke-linejoin="round" textLength="88.8" lengthAdjust="spacingAndGlyphs">.com</text>
<path fill="#2bb463" fill-rule="evenodd" d="M814.6 14.7a25.6 26.45 0 1 0 0.01 0zM815.2 22a11.4 19.05 0 1 1 -0.01 0z"/>
<polygon fill="#2bb463" points="819.2,35.3 849.6,35.3 848.2,38.9 817.9,38.9"/>
<polygon fill="#2bb463" points="816.9,43.8 847.4,43.8 846,47.6 815.7,47.6"/>
</g>
<g fill="#131722"><path d="M12.1 655.2h11.5v14.5h-5.7v-8.8h-5.8z"/><circle cx="28.55" cy="658.5" r="3.3"/><path d="M34.6 655.2h6.7l-5.7 14.5h-6.7z"/></g>
<text x="46.27" y="670.6" font-size="18.6" fill="#131722" stroke="#131722" stroke-width="0.35" textLength="105.78" lengthAdjust="spacingAndGlyphs">TradingView</text>
</svg>
</body></html>
